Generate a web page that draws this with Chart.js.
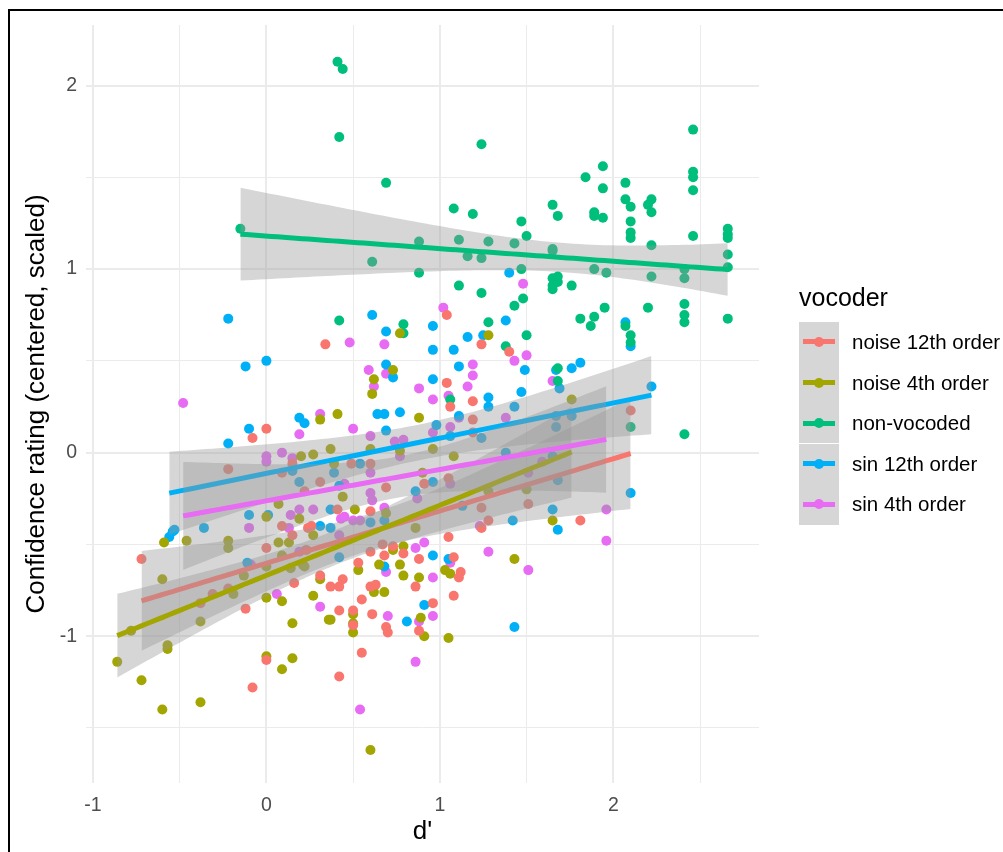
<!DOCTYPE html>
<html>
<head>
<meta charset="utf-8">
<script src="https://cdn.jsdelivr.net/npm/chart.js@4.4.1/dist/chart.umd.min.js"></script>
<style>
  body { margin: 0; background: #fff; font-family: "Liberation Sans", Arial, sans-serif; }
  #wrap { position: relative; width: 1003px; height: 852px; overflow: hidden; }
  #frame { position: absolute; left: 8px; top: 9px; width: 1100px; height: 900px; border: 2px solid #000; box-sizing: border-box; pointer-events: none; }
  canvas { position: absolute; left: 0; top: 0; }
  #legendTitle { position: absolute; left: 799px; top: 282px; font-size: 25px; line-height: 30px; color: #000; }
  .key { position: absolute; left: 799px; width: 40px; height: 40.6px; background: rgba(153,153,153,0.4); }
  .key .ln { position: absolute; left: 4px; width: 32px; height: 5px; top: 17.8px; }
  .key .dot { position: absolute; left: 15px; top: 15.3px; width: 10px; height: 10px; border-radius: 50%; }
  .lab { position: absolute; left: 852px; font-size: 20.5px; line-height: 24px; color: #000; white-space: nowrap; }
</style>
</head>
<body>
<div id="wrap">
  <canvas id="plot" width="1003" height="852"></canvas>
  <div id="legendTitle">vocoder</div>
  <div id="legend"></div>
  <div id="frame"></div>
</div>
<script>
const groupNames = ["noise 12th order", "noise 4th order", "non-vocoded", "sin 12th order", "sin 4th order"];
const groupColors = ["#F8766D", "#A3A500", "#00BF7D", "#00B0F6", "#E76BF3"];

// [d', confidence] pairs
const noise12 = [
  [0.00,0.13],[-0.08,0.08],[-0.22,-0.09],[0.15,-0.06],[0.09,-0.11],[0.22,-0.21],[0.09,-0.40],
  [0.34,0.59],[1.04,0.75],[1.24,0.59],[1.40,0.55],[1.04,0.38],[1.06,0.25],[1.19,0.28],[1.19,0.18],
  [1.19,0.11],[0.49,-0.06],[0.31,-0.16],[0.60,-0.06],[0.69,-0.19],[0.91,-0.17],[1.05,-0.14],
  [0.41,-0.31],[0.60,-0.32],[1.24,-0.30],[1.28,-0.37],[0.24,-0.41],[0.26,-0.40],[1.24,-0.41],
  [2.10,0.23],[1.81,-0.37],[1.51,-0.28],
  [-0.72,-0.58],[0.00,-0.52],[0.15,-0.45],[0.23,-0.53],[0.16,-0.71],[-0.22,-0.74],[-0.31,-0.77],
  [-0.38,-0.82],[-0.12,-0.85],[0.00,-1.13],[-0.08,-1.28],
  [0.31,-0.67],[0.37,-0.73],[0.42,-0.73],[0.44,-0.69],[0.42,-0.86],[0.53,-0.60],[0.60,-0.54],
  [0.67,-0.50],[0.73,-0.51],[0.68,-0.56],[0.79,-0.55],[0.60,-0.73],[0.63,-0.72],[0.55,-0.80],
  [0.50,-0.86],[0.50,-0.94],[0.61,-0.88],[0.69,-0.95],[0.70,-0.98],[0.88,-0.97],[0.96,-0.82],
  [0.86,-0.73],[0.88,-0.58],[1.05,-0.46],[1.08,-0.57],[1.12,-0.65],[1.11,-0.68],[1.08,-0.78],
  [0.55,-1.09],[0.42,-1.22]
];
const noise4 = [
  [0.07,-0.28],[0.00,-0.35],[0.19,-0.36],
  [0.62,0.40],[0.61,0.32],[0.73,0.45],[0.77,0.65],[1.28,0.64],[0.41,0.21],[0.31,0.18],[0.88,0.19],
  [0.37,0.02],[0.27,-0.01],[0.60,0.02],[0.77,0.01],[0.96,0.02],[1.08,-0.02],[0.39,-0.06],[0.20,-0.02],
  [0.90,-0.11],[0.44,-0.24],[0.51,-0.31],[0.69,-0.33],[0.86,-0.41],[1.28,-0.21],[1.50,-0.20],
  [1.76,0.29],[1.65,-0.37],
  [-0.59,-0.49],[-0.46,-0.48],[-0.22,-0.48],[-0.22,-0.52],[-0.60,-0.69],[0.07,-0.49],[0.13,-0.49],
  [0.09,-0.56],[0.14,-0.63],[0.21,-0.61],[0.00,-0.62],[-0.13,-0.67],[-0.19,-0.77],[0.00,-0.79],
  [0.09,-0.81],[-0.78,-0.97],[-0.38,-0.92],[0.15,-0.93],[-0.86,-1.14],[-0.57,-1.05],[-0.57,-1.07],
  [0.00,-1.11],[0.15,-1.12],[0.09,-1.18],[-0.72,-1.24],[-0.60,-1.40],[-0.38,-1.36],
  [0.27,-0.45],[0.22,-0.62],[0.31,-0.69],[0.27,-0.78],[0.36,-0.91],[0.37,-0.91],[0.53,-0.64],
  [0.65,-0.61],[0.73,-0.53],[0.79,-0.51],[0.77,-0.61],[0.79,-0.67],[0.62,-0.76],[0.68,-0.76],
  [0.50,-0.88],[0.50,-0.93],[0.50,-0.98],[0.89,-0.90],[0.91,-1.00],[0.88,-0.68],[1.03,-0.64],
  [1.06,-0.66],[1.05,-1.01],[1.43,-0.58],[0.60,-1.62]
];
const nonVocoded = [
  [0.41,2.13],[0.44,2.09],[0.42,1.72],[0.69,1.47],[-0.15,1.22],[0.61,1.04],[0.88,1.15],[0.88,0.98],
  [1.24,1.68],[2.46,1.76],[1.94,1.56],[1.84,1.50],[1.94,1.44],[2.07,1.47],[2.07,1.38],[2.10,1.34],
  [2.20,1.35],[2.22,1.38],[2.22,1.31],[2.46,1.53],[2.46,1.50],[2.46,1.43],[2.10,1.26],[2.10,1.20],
  [2.10,1.17],[2.46,1.18],[2.66,1.22],[2.66,1.19],[2.66,1.17],[2.66,1.08],[2.66,1.01],[2.22,1.13],
  [2.41,1.00],[2.41,0.95],[2.22,0.96],[1.08,1.33],[1.19,1.30],[1.47,1.26],[1.50,1.18],[1.65,1.35],
  [1.68,1.29],[1.89,1.31],[1.89,1.29],[1.94,1.28],[1.65,1.11],[1.65,1.10],[1.11,1.16],[1.28,1.15],
  [1.43,1.14],[1.16,1.07],[1.24,1.06],[1.47,1.00],[1.89,1.00],[1.96,0.98],[1.65,0.95],[1.68,0.96],
  [0.42,0.72],[0.79,0.70],[0.79,0.65],[1.11,0.91],[1.24,0.87],[1.28,0.71],[1.48,0.84],[1.43,0.80],
  [1.38,0.58],[1.50,0.64],[1.06,0.29],
  [1.65,0.91],[1.65,0.89],[1.68,0.93],[1.76,0.91],[1.95,0.79],[2.20,0.79],[2.41,0.81],[2.41,0.75],
  [2.41,0.71],[2.66,0.73],[1.81,0.73],[1.89,0.74],[1.87,0.69],[2.07,0.69],[2.10,0.64],[2.10,0.60],
  [1.68,0.46],[1.68,0.39],[2.10,0.14],[2.41,0.10]
];
const sin12 = [
  [1.40,0.98],
  [-0.22,0.73],[-0.12,0.47],[0.00,0.50],[-0.10,0.13],[-0.22,0.05],[0.19,0.19],[0.22,0.16],
  [0.15,-0.10],[0.19,-0.16],[0.01,-0.34],[-0.10,-0.34],[-0.53,-0.42],[-0.36,-0.41],
  [0.61,0.75],[0.69,0.66],[0.96,0.69],[0.96,0.56],[1.08,0.56],[1.16,0.63],[1.25,0.64],[1.38,0.72],
  [1.11,0.47],[0.69,0.48],[0.73,0.41],[0.96,0.40],[1.28,0.30],[1.28,0.25],[1.47,0.33],[1.43,0.25],
  [1.49,0.45],[0.64,0.21],[0.68,0.21],[0.77,0.22],[1.11,0.20],[0.98,0.15],[0.69,0.12],[1.06,0.09],
  [0.39,-0.11],[0.54,-0.06],[0.96,-0.16],[0.86,-0.21],[0.42,-0.18],[0.37,-0.31],[0.60,-0.38],
  [0.68,-0.37],[0.31,-0.40],[0.37,-0.41],[1.13,-0.29],[1.42,-0.37],[1.24,0.08],[1.38,0.00],
  [2.07,0.71],[2.10,0.58],[1.67,0.45],[1.76,0.46],[1.81,0.49],[1.69,0.35],[2.22,0.36],[1.67,0.20],
  [1.67,0.14],[1.76,0.20],[2.10,-0.22],[1.65,-0.31],[1.68,-0.42],[1.65,-0.02],[1.68,-0.15],
  [-0.56,-0.46],[-0.54,-0.43],[-0.11,-0.60],
  [0.42,-0.57],[0.68,-0.62],[0.81,-0.92],[0.91,-0.83],[0.96,-0.56],[1.05,-0.58],[1.43,-0.95]
];
const sin4 = [
  [-0.48,0.27],[0.00,-0.02],[0.00,-0.05],[0.09,0.00],[0.15,-0.03],[0.14,-0.34],[0.19,-0.31],
  [0.13,-0.41],[-0.10,-0.41],
  [0.48,0.60],[0.68,0.59],[1.02,0.79],[0.59,0.45],[0.62,0.36],[0.69,0.43],[1.19,0.48],[1.19,0.42],
  [1.16,0.36],[0.88,0.35],[0.96,0.29],[1.05,0.31],[1.43,0.50],[1.50,0.53],[1.48,0.92],[1.11,0.19],
  [0.31,0.21],[0.50,0.13],[0.60,0.09],[0.19,0.10],[0.96,0.11],[1.06,0.14],[1.38,0.19],[0.74,0.06],
  [0.79,0.07],[0.77,-0.02],[0.60,-0.11],[0.61,-0.26],[0.60,-0.22],[0.87,-0.25],[0.68,-0.30],
  [0.45,-0.17],[0.27,-0.31],[0.43,-0.36],[0.45,-0.35],[0.50,-0.37],[0.54,-0.37],[1.23,-0.40],
  [1.06,-0.17],
  [1.65,0.39],[1.59,-0.05],[1.51,-0.11],[1.96,-0.31],[1.96,-0.48],[1.51,-0.64],
  [-0.09,-0.61],[0.19,-0.54],[0.06,-0.77],
  [0.42,-0.45],[0.69,-0.65],[0.31,-0.84],[0.70,-0.89],[0.88,-0.92],[0.96,-0.89],[0.96,-0.68],
  [0.86,-0.52],[0.91,-0.49],[1.06,-0.60],[1.28,-0.54],[0.86,-1.14],[0.54,-1.40]
];
const groupData = [noise12, noise4, nonVocoded, sin12, sin4];

const xTicks = [-1, -0.5, 0, 0.5, 1, 1.5, 2, 2.5];
const yTicks = [-1.5, -1, -0.5, 0, 0.5, 1, 1.5, 2];

// linear fit with 95% confidence band, like geom_smooth(method = "lm")
function smooth(pts) {
  const n = pts.length;
  let mx = 0, my = 0;
  pts.forEach(p => { mx += p[0]; my += p[1]; });
  mx /= n; my /= n;
  let sxx = 0, sxy = 0;
  pts.forEach(p => { sxx += (p[0] - mx) ** 2; sxy += (p[0] - mx) * (p[1] - my); });
  const b = sxy / sxx, a = my - b * mx;
  let sse = 0;
  pts.forEach(p => { sse += (p[1] - a - b * p[0]) ** 2; });
  const s = Math.sqrt(sse / (n - 2));
  const t = 1.96 + 2.4 / (n - 2);
  const xs = pts.map(p => p[0]);
  const lo = Math.min(...xs), hi = Math.max(...xs);
  const fit = [], up = [], dn = [];
  for (let i = 0; i < 80; i++) {
    const x = lo + (hi - lo) * i / 79;
    const y = a + b * x;
    const se = s * Math.sqrt(1 / n + (x - mx) ** 2 / sxx);
    fit.push({x, y});
    up.push({x, y: y + t * se});
    dn.push({x, y: y - t * se});
  }
  return {fit, up, dn};
}

const datasets = [];
groupData.forEach((pts, g) => {
  datasets.push({
    type: "scatter",
    label: groupNames[g],
    data: pts.map(p => ({x: p[0], y: p[1]})),
    backgroundColor: groupColors[g],
    borderWidth: 0,
    pointRadius: 5,
    order: 100
  });
});
groupData.forEach((pts, g) => {
  const sm = smooth(pts);
  datasets.push({
    type: "line", data: sm.up, borderColor: "rgba(0,0,0,0)", borderWidth: 0,
    pointRadius: 0, fill: false, order: 50 - 10 * g
  });
  datasets.push({
    type: "line", data: sm.dn, borderColor: "rgba(0,0,0,0)", borderWidth: 0,
    pointRadius: 0, fill: "-1", backgroundColor: "rgba(153,153,153,0.4)", order: 50 - 10 * g
  });
  datasets.push({
    type: "line", data: sm.fit, borderColor: groupColors[g], borderWidth: 5,
    pointRadius: 0, fill: false, order: 49 - 10 * g
  });
});

Chart.defaults.font.family = '"Liberation Sans", Arial, sans-serif';

const isMajor = v => Number.isInteger(v);

new Chart(document.getElementById("plot"), {
  type: "scatter",
  data: { datasets: datasets },
  options: {
    responsive: false,
    animation: false,
    layout: { padding: { top: 25, right: 244, left: 0, bottom: 0 } },
    plugins: { legend: { display: false }, tooltip: { enabled: false } },
    scales: {
      x: {
        type: "linear",
        min: -1.04,
        max: 2.84,
        afterBuildTicks: s => { s.ticks = xTicks.map(v => ({value: v})); },
        afterFit: s => { s.height = 69; },
        border: { display: false },
        grid: {
          color: "#ebebeb",
          drawTicks: false,
          lineWidth: c => (c.tick && isMajor(c.tick.value)) ? 2 : 1
        },
        ticks: {
          autoSkip: false,
          maxRotation: 0,
          padding: 11,
          color: "#4d4d4d",
          font: { size: 19.5 },
          callback: v => isMajor(v) ? String(v) : ""
        },
        title: { display: true, text: "d'", color: "#000", font: { size: 26 }, padding: { top: 0, bottom: 5 } }
      },
      y: {
        type: "linear",
        min: -1.80,
        max: 2.33,
        afterBuildTicks: s => { s.ticks = yTicks.map(v => ({value: v})); },
        afterFit: s => { s.width = 86; },
        border: { display: false },
        grid: {
          color: "#ebebeb",
          drawTicks: false,
          lineWidth: c => (c.tick && isMajor(c.tick.value)) ? 2 : 1
        },
        ticks: {
          padding: 9,
          color: "#4d4d4d",
          font: { size: 19.5 },
          callback: v => isMajor(v) ? String(v) : ""
        },
        title: {
          display: true, text: "Confidence rating (centered, scaled)", color: "#000",
          font: { size: 26 }, padding: { top: 21.5, bottom: 0 }
        }
      }
    }
  }
});

// legend built from the same names and colours
const legend = document.getElementById("legend");
groupNames.forEach((name, g) => {
  const top = 321.7 + g * 40.6;
  const key = document.createElement("div");
  key.className = "key";
  key.style.top = top + "px";
  key.innerHTML = '<div class="ln" style="background:' + groupColors[g] + '"></div>' +
                  '<div class="dot" style="background:' + groupColors[g] + '"></div>';
  legend.appendChild(key);
  const lab = document.createElement("div");
  lab.className = "lab";
  lab.style.top = (top + 20.3 - 12) + "px";
  lab.textContent = name;
  legend.appendChild(lab);
});
</script>
</body>
</html>
